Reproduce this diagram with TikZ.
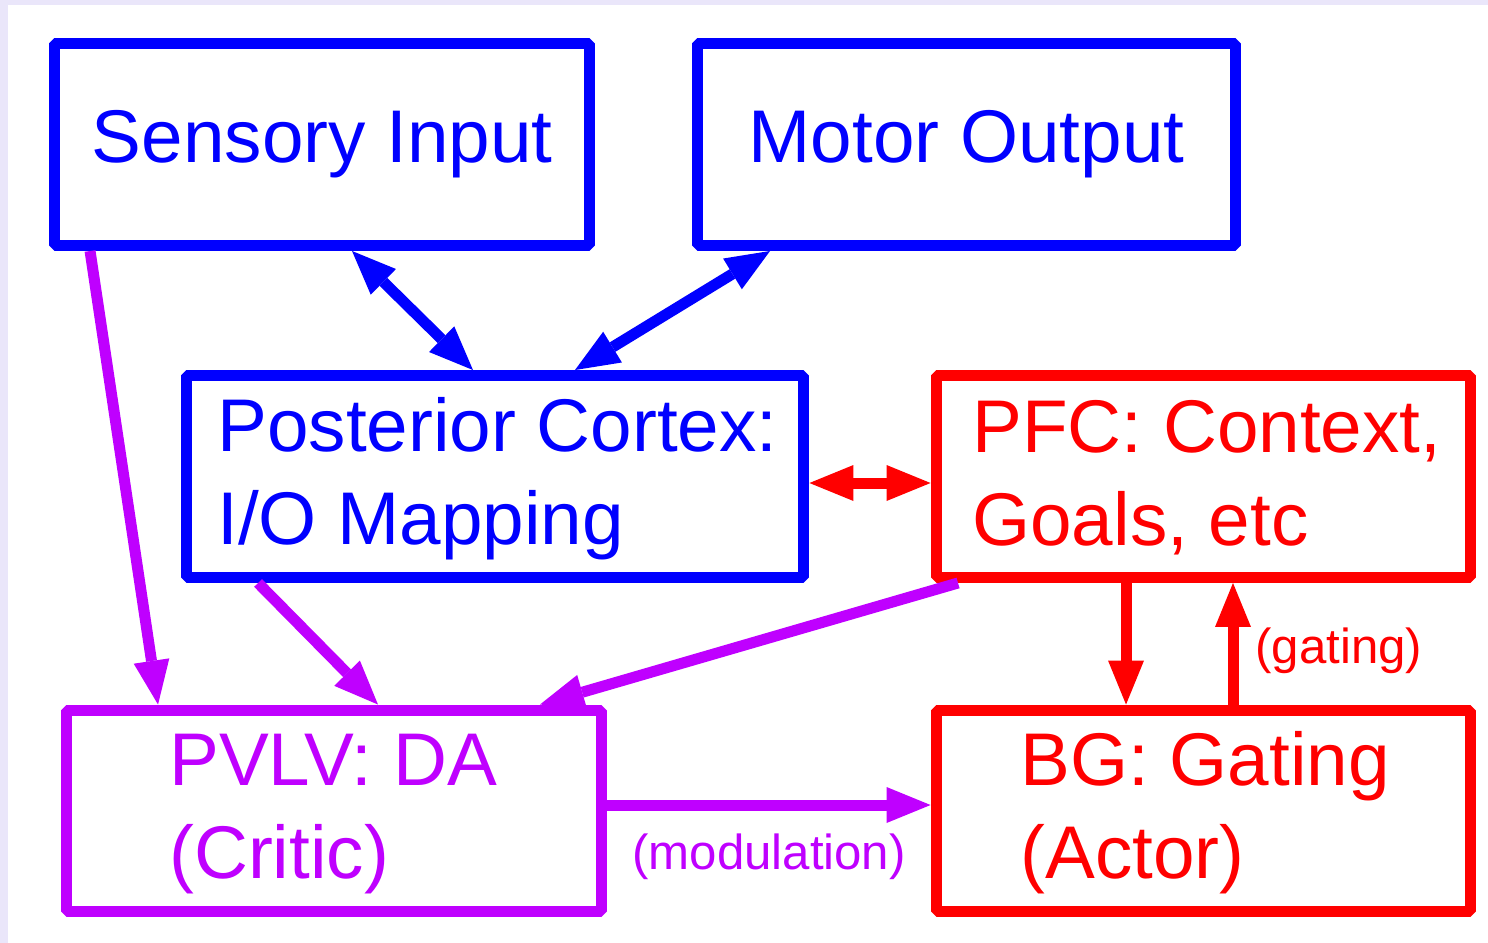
\documentclass[tikz,border=0pt]{standalone}
\usepackage{fontspec}
\setmainfont{Liberation Sans}
\usetikzlibrary{arrows.meta,calc}
\definecolor{bblue}{RGB}{0,0,255}
\definecolor{rred}{RGB}{255,0,0}
\definecolor{ppurple}{RGB}{191,0,255}
\definecolor{lavender}{RGB}{234,230,250}
\tikzset{
	box/.style={draw, rectangle, line width=0.22cm, line join=bevel, minimum height=4.04cm, inner sep=0pt},
	bigtxt/.style={font=\fontsize{42.5}{52.7}\selectfont},
	lbl/.style={bigtxt, inner sep=0pt, anchor=base west, align=left},
	smalllbl/.style={font=\fontsize{28}{33}\selectfont, inner sep=0pt, anchor=base west},
	link/.style={line width=0.22cm, >={Triangle[length=0.88cm,width=0.72cm,line width=0pt]}},
}

\begin{document}
\begin{tikzpicture}[x=0.02cm, y=-0.02cm]
		%%%%% START %%%%%
		
		\fill[lavender] (0, 0) rectangle (1488, 943);
		\fill[white] (8, 5) rectangle (1488, 943);
		\useasboundingbox (0, 0) rectangle (1488, 943);
		
		% boxes
		\node[box, bigtxt, color=bblue, minimum width=10.71cm] (sens) at (322.25, 144.5) {Sensory Input};
		\node[box, bigtxt, color=bblue, minimum width=10.78cm] (motor) at (966.5, 144.5) {Motor Output};
		\node[box, color=bblue, minimum width=12.36cm] (post) at (495, 476.5) {};
		\node[box, color=rred, minimum width=10.7cm] (pfc) at (1203.5, 476.5) {};
		\node[box, color=ppurple, minimum width=10.72cm] (pvlv) at (334, 811) {};
		\node[box, color=rred, minimum width=10.7cm] (bg) at (1203.5, 811) {};
		
		% base is the last line
		\node[lbl, color=bblue] (postlbl) at (217, 544) {Posterior Cortex:\\I/O Mapping};
		\node[lbl, color=rred] (pfclbl) at (972, 545) {PFC: Context,\\Goals, etc};
		\node[lbl, color=ppurple] (pvlvlbl) at (169, 878) {PVLV: DA\\(Critic)};
		\node[lbl, color=rred] (bglbl) at (1020, 878) {BG: Gating\\(Actor)};
		
		% connectors
		\draw[link, bblue, <->] ([xshift=6.06cm]sens.south west) -- ([xshift=5.85cm]post.north west);
		\draw[link, bblue, <->] ([xshift=1.57cm]motor.south west) -- ([xshift=7.89cm]post.north west);
		\draw[link, rred, <->] ([yshift=-0.13cm]post.east) -- ([yshift=-0.13cm]pfc.west);
		
		\draw[link, ppurple, ->] ([xshift=0.82cm]sens.south west) -- ([xshift=1.95cm]pvlv.north west);
		\draw[link, ppurple, ->] ([xshift=1.55cm]post.south west) -- ([xshift=6.35cm]pvlv.north west);
		\draw[link, ppurple, ->] ([xshift=0.55cm]pfc.south west) -- ([xshift=9.59cm]pvlv.north west);
		
		\draw[link, rred, ->] ([xshift=3.91cm]pfc.south west) -- ([xshift=3.91cm]bg.north west);
		\draw[link, rred, ->] ([xshift=6.05cm]bg.north west) -- ([xshift=6.05cm]pfc.south west);
		\node[smalllbl, color=rred] (gatlbl) at (1255, 663) {(gating)};
		
		\draw[link, ppurple, ->] ([yshift=0.12cm]pvlv.east) -- ([yshift=0.12cm]bg.west);
		\node[smalllbl, color=ppurple] (modlbl) at (632, 869) {(modulation)};
		
		%%%%% END %%%%%
	\end{tikzpicture}
\end{document}
